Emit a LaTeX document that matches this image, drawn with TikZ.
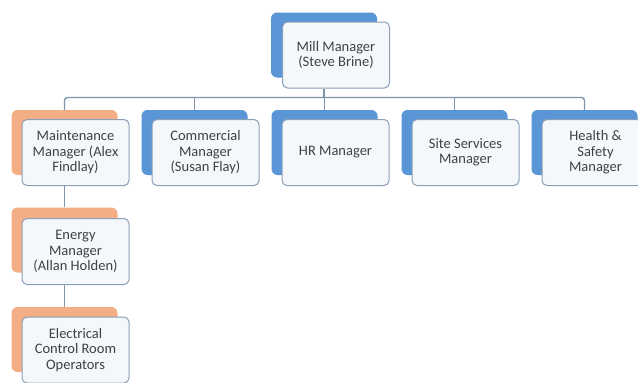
\documentclass[tikz,border=0pt]{standalone}
\usepackage{fontspec}
\setmainfont{Carlito}
\definecolor{bblue}{HTML}{5A96D6}
\definecolor{borange}{HTML}{F4AE85}
\definecolor{fbord}{HTML}{8A9FB8}
\definecolor{ffill}{HTML}{F5F8FB}
\definecolor{conn}{HTML}{7F93AA}
\definecolor{txt}{HTML}{404040}
\begin{document}
\begin{tikzpicture}[x=1pt,y=-1pt,
  backbox/.style={rectangle,rounded corners=6pt,fill=#1,draw=none,minimum width=106pt,minimum height=65pt,inner sep=0pt},
  frontbox/.style={rectangle,rounded corners=5pt,fill=ffill,draw=fbord,line width=1pt,minimum width=107pt,minimum height=66pt,inner sep=2pt,align=center,text=txt,font=\fontsize{14.5}{15.5}\selectfont},
  link/.style={draw=conn,line width=1.4pt}]
\clip (0,0) rectangle (638,383);
\fill[white] (0,0) rectangle (638,383);
\useasboundingbox (0,0) rectangle (638,383);
% Mill manager
\node[backbox=bblue] (millB) at (324,45) {};
\node[frontbox] (mill) at (336,55) {Mill Manager\\(Steve Brine)};
% second level
\node[backbox=borange] (mntB) at (64.5,142.5) {};
\node[frontbox] (mnt) at (75.5,152.5) {Maintenance\\Manager (Alex\\Findlay)};
\node[backbox=bblue] (comB) at (194.5,142.5) {};
\node[frontbox] (com) at (205.5,152.5) {Commercial\\Manager\\(Susan Flay)};
\node[backbox=bblue] (hrB) at (324.5,142.5) {};
\node[frontbox] (hr) at (335.5,152.5) {HR Manager};
\node[backbox=bblue] (ssB) at (454.5,142.5) {};
\node[frontbox] (ss) at (465.5,152.5) {Site Services\\Manager};
\node[backbox=bblue] (hsB) at (584.5,142.5) {};
\node[frontbox] (hs) at (595.5,152.5) {Health \&\\Safety\\Manager};
% third and fourth level
\node[backbox=borange] (enB) at (64.5,240) {};
\node[frontbox] (en) at (75.5,251.5) {Energy\\Manager\\(Allan Holden)};
\node[backbox=borange] (elB) at (64.5,339.5) {};
\node[frontbox] (el) at (75.5,350) {Electrical\\Control Room\\Operators};
% connectors
\coordinate (bus) at (0,97.5);
\draw[link] (millB.center |- mill.south) -- (millB.center |- bus);
\draw[link,rounded corners=3pt] (mntB.north) -- (mntB.north |- bus) -- (hsB.north |- bus) -- (hsB.north);
\draw[link] (comB.north) -- (comB.north |- bus);
\draw[link] (hrB.north) -- (hrB.north |- bus);
\draw[link] (ssB.north) -- (ssB.north |- bus);
\draw[link] (mntB.center |- mnt.south) -- (enB.north);
\draw[link] (enB.center |- en.south) -- (elB.north);
\end{tikzpicture}
\end{document}
